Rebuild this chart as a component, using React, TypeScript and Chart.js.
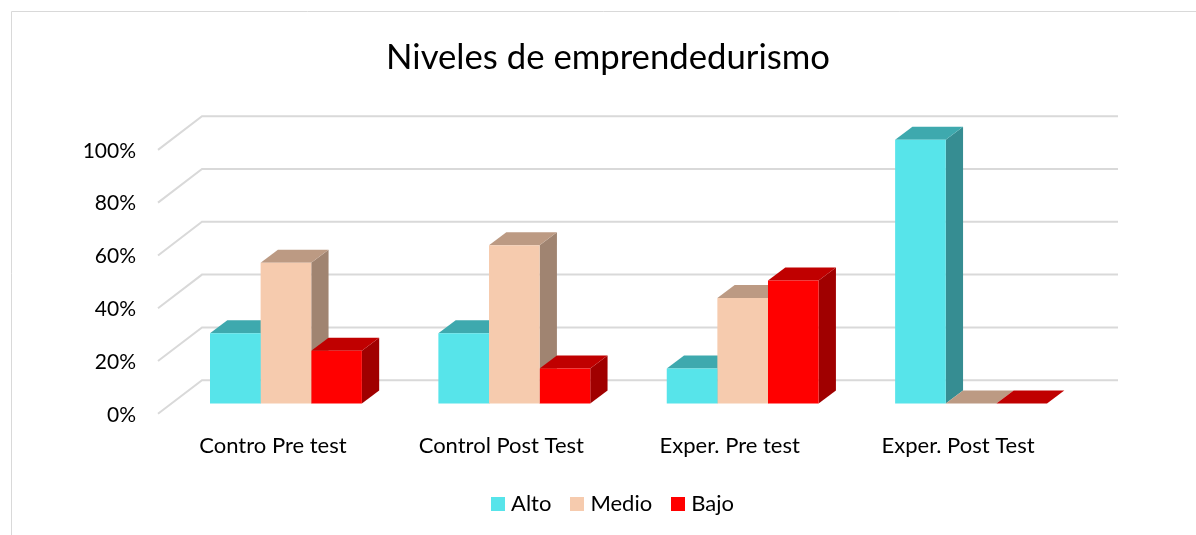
import React, { useEffect, useRef } from "react";
import { Chart, registerables } from "chart.js";

Chart.register(...registerables);

const categories = ["Contro Pre test", "Control Post Test", "Exper. Pre test", "Exper. Post Test"];
const alto = [26.67, 26.67, 13.33, 100];
const medio = [53.33, 60, 40, 0];
const bajo = [20, 13.33, 46.67, 0];
const yTicks = [0, 20, 40, 60, 80, 100];
const FONT = "Lato, Carlito, Calibri, sans-serif";

const seriesStyles = [
  { label: "Alto", data: alto, front: "#57E4EA", top: "#3EA9AE", side: "#368D92" },
  { label: "Medio", data: medio, front: "#F6CBAE", top: "#BC9A83", side: "#A08471" },
  { label: "Bajo", data: bajo, front: "#FF0000", top: "#C00000", side: "#A00000" },
];

const DX = 17.3, DY = 13;
const poly = (ctx: CanvasRenderingContext2D, pts: number[][], fill: string) => {
  ctx.beginPath();
  pts.forEach(([x, y], i) => (i ? ctx.lineTo(x, y) : ctx.moveTo(x, y)));
  ctx.closePath();
  ctx.fillStyle = fill;
  ctx.fill();
};

const frame3d = {
  id: "frame3d",
  afterLayout(chart: any) {
    chart.legend.left += 7;
    chart.legend.right += 7;
  },
  beforeDatasetsDraw(chart: any) {
    const ctx: CanvasRenderingContext2D = chart.ctx;
    const y = chart.scales.y;
    ctx.save();
    // chart frame
    ctx.strokeStyle = "#D9D9D9";
    ctx.lineWidth = 1;
    ctx.beginPath();
    ctx.moveTo(11.5, chart.height);
    ctx.lineTo(11.5, 11.5);
    ctx.lineTo(chart.width, 11.5);
    ctx.stroke();
    // perspective gridlines
    ctx.lineWidth = 2;
    yTicks.forEach((v) => {
      const py = y.getPixelForValue(v);
      ctx.beginPath();
      ctx.moveTo(158, py + 10.2);
      ctx.lineTo(202, py - 23.4);
      ctx.lineTo(1118, py - 23.4);
      ctx.stroke();
    });
    // tops and sides of the bars
    const nCat = categories.length;
    for (let c = 0; c < nCat; c++) {
      seriesStyles.forEach((s, i) => {
        const bar = chart.getDatasetMeta(i).data[c];
        const l = bar.x - bar.width / 2, r = bar.x + bar.width / 2, t = bar.y, b = bar.base;
        poly(ctx, [[r, t], [r + DX, t - DY], [r + DX, b - DY], [r, b]], s.side);
        poly(ctx, [[l, t], [l + DX, t - DY], [r + DX, t - DY], [r, t]], s.top);
      });
    }
    ctx.restore();
  },
};

const legendSwatch = (color: string) => {
  const c = document.createElement("canvas");
  c.width = 14;
  c.height = 14;
  const g = c.getContext("2d")!;
  g.fillStyle = color;
  g.fillRect(0, 0, 14, 14);
  return c;
};

export default function App() {
  const ref = useRef<HTMLCanvasElement>(null);
  useEffect(() => {
    const chart = new Chart(ref.current!, {
      type: "bar",
      data: {
        labels: categories,
        datasets: seriesStyles.map((s) => ({
          label: s.label,
          data: s.data,
          backgroundColor: s.front,
          categoryPercentage: 0.665,
          barPercentage: 1,
          clip: false as any,
          yAxisID: "y",
        })),
      },
      plugins: [frame3d],
      options: {
        responsive: false,
        animation: false,
        layout: { padding: { left: 20, right: 0, top: 37, bottom: 10 } },
        plugins: {
          tooltip: { enabled: false },
          title: {
            display: true,
            text: "Niveles de emprendedurismo",
            color: "#000",
            font: { family: FONT, size: 34.7, weight: "normal" },
            padding: { top: 0, bottom: 61 },
          },
          legend: {
            position: "bottom",
            labels: {
              color: "#000",
              font: { family: FONT, size: 22 },
              usePointStyle: true,
              pointStyleWidth: 4,
              padding: 24,
              generateLabels: () =>
                seriesStyles.map((s, i) => ({
                  text: s.label,
                  datasetIndex: i,
                  pointStyle: legendSwatch(s.front) as any,
                  fontColor: "#000",
                  lineWidth: 0,
                })),
            },
          },
        },
        scales: {
          x: {
            afterFit: (s: any) => { s.height -= 11; },
            grid: { display: false },
            border: { display: false },
            ticks: { color: "#000", font: { family: FONT, size: 22 }, padding: 21, labelOffset: -13, maxRotation: 0 },
          },
          y: {
            min: 0,
            max: 100,
            afterFit: (s: any) => { s.width = 151.75; },
            grid: { display: false },
            border: { display: false },
            ticks: {
              color: "#000",
              font: { family: FONT, size: 21 },
              padding: 27.75,
              stepSize: 20,
              labelOffset: 11.2,
              callback: (v: any) => v + "%",
            },
          },
          yRight: {
            position: "right",
            min: 0,
            max: 100,
            afterFit: (s: any) => { s.width = 110.75; },
            grid: { display: false },
            border: { display: false },
            ticks: { display: false },
          },
        },
      },
    } as any);
    return () => chart.destroy();
  }, []);
  return (
    <canvas
      ref={ref}
      width={1196}
      height={535}
      style={{ position: "fixed", left: 0, top: 0, width: 1196, height: 535, background: "#fff" }}
    />
  );
}
